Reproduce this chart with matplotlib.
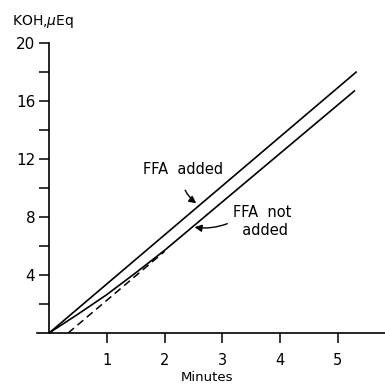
import matplotlib

matplotlib.use("Agg")

import matplotlib.pyplot as plt

# curves (minutes, KOH in microequivalents)
added_x = [0.0, 5.32]
added_y = [0.0, 18.0]

not_added_x = [0.0, 0.5, 1.0, 1.5, 2.0, 5.29]
not_added_y = [0.0, 1.3, 2.65, 4.15, 5.7, 16.7]

extrap_x = [0.33, 2.0]
extrap_y = [0.0, 5.63]

x_ticks = [1, 2, 3, 4, 5]
y_ticks = [2, 4, 6, 8, 10, 12, 14, 16, 18, 20]
y_labels = ["", "4", "", "8", "", "12", "", "16", "", "20"]

plt.rcParams["font.family"] = "DejaVu Sans"

fig = plt.figure(figsize=(3.85, 3.85), dpi=100)
ax = fig.add_axes([0.096, 0.135, 0.904, 0.753])

ax.plot(added_x, added_y, color="black", linewidth=1.2)
ax.plot(not_added_x, not_added_y, color="black", linewidth=1.2)
ax.plot(extrap_x, extrap_y, color="black", linewidth=1.1, linestyle=(0, (5, 3)))

ax.set_xlim(-0.21, 5.82)
ax.set_ylim(0, 20)

for side in ["top", "right"]:
    ax.spines[side].set_visible(False)
ax.spines["left"].set_position(("data", 0))
ax.spines["left"].set_linewidth(1.2)
ax.spines["bottom"].set_linewidth(1.2)

ax.set_xticks(x_ticks)
ax.set_xticklabels([str(t) for t in x_ticks])
ax.set_yticks(y_ticks)
ax.set_yticklabels(y_labels)
ax.tick_params(axis="x", direction="out", length=7.5, width=1.1, pad=7, labelsize=10.5)
ax.tick_params(axis="y", direction="out", length=7.5, width=1.1, pad=2.5, labelsize=11)

ax.annotate("FFA  added", xy=(2.55, 8.95), xytext=(1.62, 11.3),
            fontsize=10.5, ha="left", va="center",
            arrowprops=dict(arrowstyle="-|>", color="black", lw=1.0,
                            connectionstyle="arc3,rad=0.3", shrinkA=8, shrinkB=0))
ax.annotate("FFA  not\n  added", xy=(2.52, 7.3), xytext=(3.18, 7.7),
            fontsize=10.5, ha="left", va="center", linespacing=1.3,
            arrowprops=dict(arrowstyle="-|>", color="black", lw=1.0,
                            connectionstyle="arc3,rad=-0.15", shrinkA=2, shrinkB=0,
                            relpos=(0.0, 0.5)))

fig.text(0.03, 0.943, "KOH,$\\mu$Eq", fontsize=10, ha="left", va="center")
fig.text(0.538, 0.002, "Minutes", fontsize=9.5, ha="center", va="bottom")

fig.savefig("out.png", dpi=100)
